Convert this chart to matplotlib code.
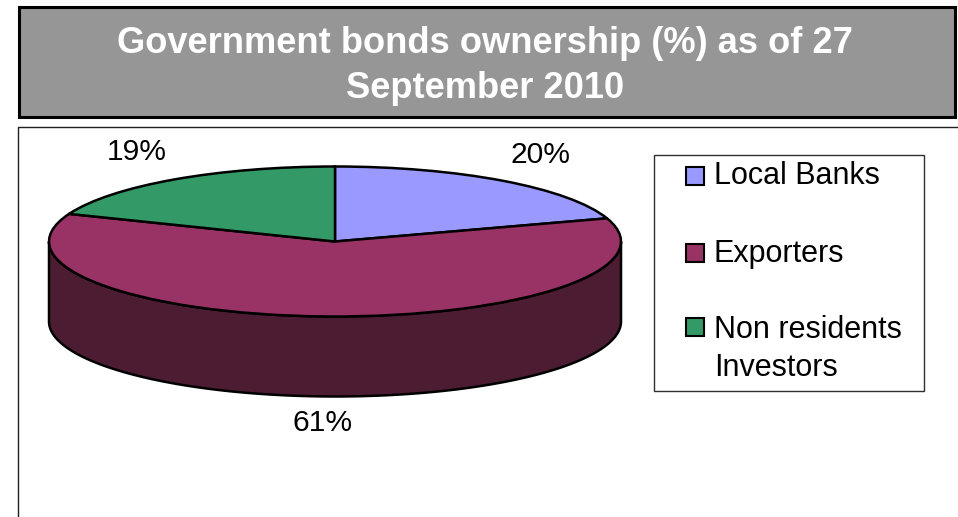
import numpy as np
import matplotlib.pyplot as plt
from matplotlib.patches import Rectangle

plt.rcParams['font.family'] = ['Liberation Sans', 'DejaVu Sans']

title = 'Government bonds ownership (%) as of 27\nSeptember 2010'
categories = ['Local Banks', 'Exporters', 'Non residents\nInvestors']
values = [20, 61, 19]
colors = ['#9999FF', '#993366', '#339966']
side_color = '#4C1C33'

W, H = 958, 517
fig = plt.figure(figsize=(W / 100, H / 100), dpi=100)

# pixel axes for the boxes and the texts
bg = fig.add_axes([0, 0, 1, 1])
bg.set_xlim(0, W)
bg.set_ylim(H, 0)
bg.axis('off')

# title box
bg.add_patch(Rectangle((19.5, 6.5), 936, 110, fc='#969696', ec='black', lw=2.2))
bg.text(485, 66, title, color='white', fontsize=26.1, fontweight='bold',
        ha='center', va='center', linespacing=1.35)

# chart frame, open on the right and at the bottom
bg.plot([958, 18.5, 18.5], [127, 127, 517], color='#202020', lw=1)

# pie axes: unit circle squeezed into an ellipse, the side hangs under it
cx, cy, rx, ry, depth = 335, 241.5, 286, 75, 80
pie_ax = fig.add_axes([(cx - rx) / W, 1 - (cy + ry + depth) / H,
                       2 * rx / W, (2 * ry + depth) / H])
pie_ax.pie(values, colors=colors, startangle=90, counterclock=False, radius=1,
           wedgeprops={'edgecolor': 'black', 'linewidth': 1.8, 'zorder': 3})
pie_ax.set_aspect('auto')
pie_ax.set_xlim(-1, 1)
pie_ax.set_ylim(-1 - depth / ry, 1)

# visible side of the pie: only the front half of the ellipse
t = np.linspace(np.pi / 2, 3 * np.pi / 2, 200)
x = np.sin(t)
y = np.cos(t)
pie_ax.fill(np.r_[x, x[::-1]], np.r_[y, y[::-1] - depth / ry],
            fc=side_color, ec='black', lw=1.8, zorder=2, clip_on=False)
for p in pie_ax.patches:
    p.set_clip_on(False)

# percent labels
label_pos = [(541, 155), (323, 423), (137, 152)]
for v, (lx, ly) in zip(values, label_pos):
    bg.text(lx, ly, f'{v}%', fontsize=21.6, ha='center', va='center', color='black')

# legend
bg.add_patch(Rectangle((654.5, 154.5), 270, 236, fc='white', ec='#303030', lw=1))
handle_tops = [167, 244, 318]
text_tops = [161, 239, 315]
for name, col, top, text_top in zip(categories, colors, handle_tops, text_tops):
    bg.add_patch(Rectangle((686, top), 18, 18, fc=col, ec='black', lw=1.5))
    bg.text(714, text_top, name, fontsize=22, ha='left', va='top', linespacing=1.35)

fig.savefig('out.png', dpi=100, facecolor='white')
